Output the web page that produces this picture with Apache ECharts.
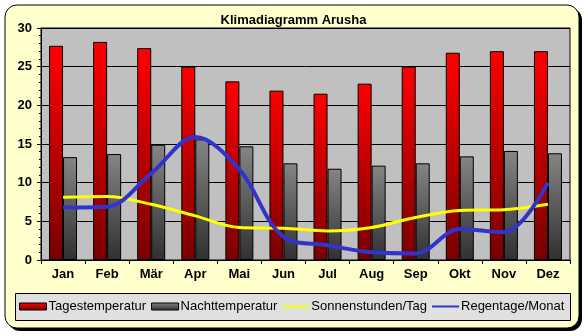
<!DOCTYPE html>
<html><head><meta charset="utf-8">
<script src="https://cdn.jsdelivr.net/npm/echarts@6/dist/echarts.min.js"></script>
<style>html,body{margin:0;padding:0;background:#fff}#c{width:587px;height:336px}</style>
</head><body><div id="c"></div>
<script>
const months = ['Jan','Feb','Mär','Apr','Mai','Jun','Jul','Aug','Sep','Okt','Nov','Dez'];
const dayTemp = [27.7,28.2,27.4,25.0,23.1,21.9,21.5,22.8,25.0,26.8,27.0,27.0];
const nightTemp = [13.3,13.7,14.9,15.6,14.7,12.5,11.8,12.2,12.5,13.4,14.1,13.8];
const sunHours = [8.1,8.2,7.2,5.7,4.2,4.1,3.75,4.2,5.5,6.4,6.5,7.2];
const rainDays = [6.8,6.9,11.2,15.9,11.7,3.0,1.9,1.0,0.85,4.0,3.6,10.0];
const yTicks = {min:0, max:30, interval:5};

const font = '"Liberation Sans", Arial, sans-serif';
const chart = echarts.init(document.getElementById('c'), null, {renderer:'canvas'});
const redGrad = new echarts.graphic.LinearGradient(0,0,0,1,[{offset:0,color:'#ff0000'},{offset:1,color:'#780000'}]);
const grayGrad = new echarts.graphic.LinearGradient(0,0,0,1,[{offset:0,color:'#858585'},{offset:1,color:'#303030'}]);
chart.setOption({
  animation:false,
  backgroundColor:'#ffffff',
  graphic:[
    {type:'rect', z:-100, silent:true, shape:{x:8,y:8,width:574,height:323,r:12}, style:{fill:'#000'}},
    {type:'rect', z:-99, silent:true, shape:{x:5,y:5,width:574,height:323,r:12}, style:{fill:'#ffffcc',stroke:'#000',lineWidth:1}},
    {type:'rect', z:-98, silent:true, shape:{x:15.5,y:293.5,width:555,height:27}, style:{fill:'#e0e0e0',stroke:'#000',lineWidth:1}}
  ],
  title:{text:'Klimadiagramm Arusha', left:'center', top:9,
    textStyle:{fontFamily:font,fontSize:13,fontWeight:'bold',color:'#000'}},
  grid:{left:41, top:28, width:529, height:232, show:true, backgroundColor:'#c0c0c0', borderColor:'#000', borderWidth:1},
  legend:{left:19, top:300, itemGap:5, itemWidth:27, itemHeight:7, padding:0,
    textStyle:{fontFamily:font,fontSize:13,color:'#000',padding:[0,0,0,-3]},
    data:[
      {name:'Tagestemperatur', icon:'rect', itemStyle:{color:redGrad,borderColor:'#000',borderWidth:1}},
      {name:'Nachttemperatur', icon:'rect', itemStyle:{color:grayGrad,borderColor:'#000',borderWidth:1}},
      {name:'Sonnenstunden/Tag', icon:'path://M0,0 L27,0 L27,2 L0,2Z', itemStyle:{color:'#ffff00',borderWidth:0}},
      {name:'Regentage/Monat', icon:'path://M0,0 L27,0 L27,2 L0,2Z', itemStyle:{color:'#3333cc',borderWidth:0}}
    ]},
  xAxis:{type:'category', data:months, boundaryGap:true,
    axisLine:{lineStyle:{color:'#000',width:1}},
    axisTick:{show:true, length:4, lineStyle:{color:'#000'}},
    axisLabel:{fontFamily:font,fontSize:13,fontWeight:'bold',color:'#000',margin:8},
    splitLine:{show:false}},
  yAxis:{type:'value', min:yTicks.min, max:yTicks.max, interval:yTicks.interval,
    axisLine:{show:true,lineStyle:{color:'#000',width:1}},
    axisTick:{show:true,length:4,lineStyle:{color:'#000'}},
    minorTick:{show:true,splitNumber:5,length:2,lineStyle:{color:'#000'}},
    axisLabel:{fontFamily:font,fontSize:13,fontWeight:'bold',color:'#000',margin:9},
    splitLine:{show:true,lineStyle:{color:'#000',width:1}}},
  series:[
    {name:'Tagestemperatur', type:'bar', data:dayTemp, barWidth:14, barGap:'0%',
      itemStyle:{color:redGrad,borderColor:'#000',borderWidth:1}},
    {name:'Nachttemperatur', type:'bar', data:nightTemp, barWidth:14, barGap:'0%',
      itemStyle:{color:grayGrad,borderColor:'#000',borderWidth:1}},
    {name:'Sonnenstunden/Tag', type:'line', data:sunHours, smooth:0.35, showSymbol:false, symbol:'none',
      lineStyle:{color:'#ffff00',width:3}, itemStyle:{color:'#ffff00'}, z:3},
    {name:'Regentage/Monat', type:'line', data:rainDays, smooth:0.35, showSymbol:false, symbol:'none',
      lineStyle:{color:'#3333cc',width:4}, itemStyle:{color:'#3333cc'}, z:4}
  ]
});
</script></body></html>
